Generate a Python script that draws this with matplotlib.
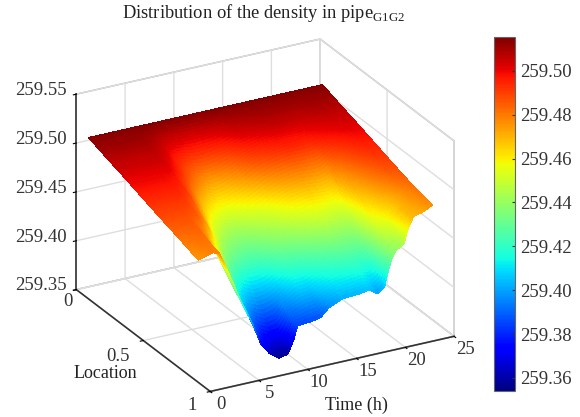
import numpy as np
import matplotlib
matplotlib.use("Agg")
import matplotlib.pyplot as plt
from matplotlib import cm
from matplotlib.colors import Normalize

plt.rcParams['font.family'] = ['Liberation Serif', 'DejaVu Serif']
plt.rcParams['mathtext.fontset'] = 'custom'
plt.rcParams['mathtext.rm'] = 'Liberation Serif'

# values, density = 259 + value
time_h = [0, 0.7, 1.5, 2.2, 2.5, 3.5, 4.5, 5.6, 6.4, 7.3, 8.3, 9.2, 9.8, 10.2, 10.5, 11.7,
          12.6, 13.4, 14.8, 16.5, 17.5, 18.4, 19.1, 19.4, 19.8, 20.3, 21.1, 21.5, 22.1, 23, 24]
location = [0.09, 0.23, 0.36, 0.5, 0.64, 0.77, 0.91]
rho_009 = [.515, .515, .515, .515, .515, .515, .515, .515, .515, .515, .515, .515, .515, .515, .515, .515,
           .515, .515, .515, .515, .515, .515, .515, .515, .515, .515, .515, .515, .515, .515, .515]
rho_023 = [.508, .508, .508, .508, .508, .508, .508, .505, .500, .497, .495, .494, .494, .495, .495, .497,
           .500, .503, .505, .507, .507, .507, .507, .507, .507, .507, .508, .508, .508, .508, .508]
rho_036 = [.502, .502, .502, .502, .502, .502, .502, .495, .488, .480, .472, .468, .469, .470, .471, .477,
           .483, .487, .491, .494, .494, .494, .495, .496, .497, .498, .499, .500, .501, .502, .502]
rho_050 = [.495, .495, .495, .495, .495, .495, .491, .477, .464, .453, .446, .444, .445, .446, .447, .451,
           .454, .459, .466, .470, .469, .468, .470, .473, .478, .481, .486, .488, .491, .494, .495]
rho_064 = [.488, .488, .488, .488, .488, .486, .475, .453, .438, .430, .425, .424, .425, .426, .428, .433,
           .436, .438, .443, .447, .446, .445, .449, .452, .458, .468, .474, .477, .481, .486, .488]
rho_077 = [.482, .482, .483, .483, .481, .466, .443, .420, .408, .398, .394, .396, .399, .402, .404, .413,
           .413, .416, .421, .425, .426, .427, .432, .436, .446, .456, .463, .466, .470, .477, .482]
rho_091 = [.475, .477, .479, .477, .470, .446, .420, .397, .375, .363, .356, .358, .371, .385, .385, .386,
           .388, .396, .402, .403, .405, .399, .404, .416, .430, .439, .444, .458, .470, .472, .477]

x_ticks = [0, 5, 10, 15, 20, 25]
y_ticks = [0, 0.5, 1]
y_tick_labels = ['0', '0.5', '1']
z_ticks = [259.35, 259.40, 259.45, 259.50, 259.55]
cbar_ticks = [259.36, 259.38, 259.40, 259.42, 259.44, 259.46, 259.48, 259.50]
vmin, vmax = 259.354, 259.5155

rho = 259 + np.array([rho_009, rho_023, rho_036, rho_050, rho_064, rho_077, rho_091])

# same job as matlab's "shading interp": finer facets so the colour runs smoothly
t_fine = np.unique(np.concatenate([np.linspace(0, 24, 260), time_h]))
l_fine = np.linspace(location[0], location[-1], 70)
by_time = np.array([np.interp(t_fine, time_h, row) for row in rho])
fine = np.array([np.interp(l_fine, location, by_time[:, i]) for i in range(len(t_fine))]).T
T, L = np.meshgrid(t_fine, l_fine)

fig = plt.figure(figsize=(5.8, 4.17), dpi=100)
ax = fig.add_axes([0.038, -0.004, 0.82, 0.95], projection='3d', proj_type='ortho')
ax.view_init(elev=24.5, azim=-118.6)
ax.set_box_aspect((278, 280, 215), zoom=1.1)

ax.plot_surface(T, L, fine, cmap='jet', vmin=vmin, vmax=vmax, rstride=1, cstride=1,
                linewidth=0, antialiased=False, shade=False)

ax.set_xlim(0, 25)
ax.set_ylim(1, 0)
ax.set_zlim(259.35, 259.55)
ax.set_xticks(x_ticks)
ax.set_yticks(y_ticks)
ax.set_zticks(z_ticks)
ax.set_xticklabels([])
ax.set_yticklabels([])
ax.set_zticklabels([])

for a in (ax.xaxis, ax.yaxis, ax.zaxis):
    a.set_pane_color((1, 1, 1, 1))
    a.pane.set_edgecolor('#a8a8a8')
    a._axinfo['grid'].update(color='#dedede', linewidth=1.0)
    a._axinfo['tick']['inward_factor'] = 0.15
    a._axinfo['tick']['outward_factor'] = 0.0
    a.line.set_color('#333333')
    a.line.set_linewidth(1.2)

# tick labels sit off the ticks the way matlab puts them, native ones land too far out
lab = dict(fontsize=13.5, color='#333333', zorder=10)
for v in x_ticks:
    ax.text(v, 1.082, 259.345, str(v), ha='center', va='center', **lab)
for v, s, dt in zip(y_ticks, y_tick_labels, [-0.9, -2.6, -1.9]):
    ax.text(dt, v, 259.34, s, ha='center', va='center', **lab)
for v in z_ticks:
    ax.text(-1, 0, v + 0.006, '%.2f' % v, ha='right', va='center', **lab)

fig.text(105 / 580, 1 - 374 / 417, 'Location', fontsize=13, ha='center', va='center', color='#222222')
fig.text(356 / 580, 1 - 405 / 417, 'Time (h)', fontsize=13, ha='center', va='center', color='#222222')
fig.text(264 / 580, 1 - 13 / 417, r'Distribution of the density in pipe$_{\mathrm{G1G2}}$',
         fontsize=13.3, ha='center', va='center', color='#222222')

cax = fig.add_axes([494 / 580, 1 - 391 / 417, 21 / 580, 354 / 417])
cb = fig.colorbar(cm.ScalarMappable(Normalize(vmin, vmax), 'jet'), cax=cax, ticks=cbar_ticks)
cb.ax.set_yticklabels(['%.2f' % v for v in cbar_ticks])
cb.ax.tick_params(labelsize=13.5, direction='in', length=2.5, width=0.8, pad=4, colors='#333333')
cb.outline.set_edgecolor('#666666')

fig.savefig('out.png', dpi=100)
